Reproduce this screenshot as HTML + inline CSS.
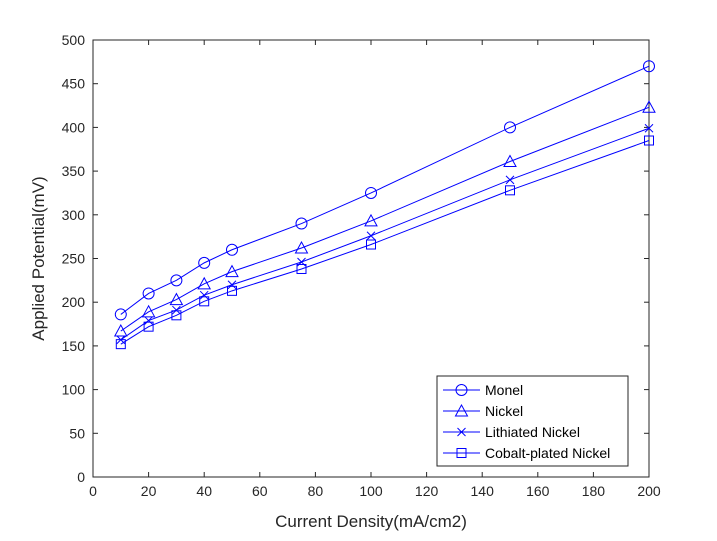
<!DOCTYPE html>
<html><head><meta charset="utf-8"><style>
body{margin:0;background:#fff;}
svg text{font-family:"Liberation Sans",Arial,sans-serif;}
</style></head><body>
<svg id="chart" width="717" height="536" viewBox="0 0 717 536" xmlns="http://www.w3.org/2000/svg">
<rect width="717" height="536" fill="#fff"/>
<g id="plot"></g>
</svg>
<script>
const xValues = [10, 20, 30, 40, 50, 75, 100, 150, 200];
const monel = [186, 210, 225, 245, 260, 290, 325, 400, 470];
const nickel = [167, 189, 203, 221, 235, 262, 293, 361, 423];
const lithiated = [157, 179, 191, 208, 220, 246, 276, 340, 399];
const cobalt = [152, 172, 185, 201, 213, 238, 266, 328, 385];
const xTicks = [0,20,40,60,80,100,120,140,160,180,200];
const yTicks = [0,50,100,150,200,250,300,350,400,450,500];
const seriesNames = ["Monel","Nickel","Lithiated Nickel","Cobalt-plated Nickel"];

const NS="http://www.w3.org/2000/svg";
const L=93,R=649,T=40,B=477;
const xs=v=>L+(v-0)/200*(R-L);
const ys=v=>B-(v-0)/500*(B-T);
const plot=document.getElementById('plot');
const C="#0000ff";
function mk(tag,attrs,parent){const e=document.createElementNS(NS,tag);for(const k in attrs)e.setAttribute(k,attrs[k]);(parent||plot).appendChild(e);return e;}

let box=mk('rect',{x:L,y:T,width:R-L,height:B-T,fill:'none',stroke:'#262626','stroke-width':1});



xTicks.forEach(v=>{
  const x=xs(v);
  const t=mk('line',{x1:x,y1:B,x2:x,y2:B-5,stroke:'#262626'});
  
  
  const t2=mk('line',{x1:x,y1:T,x2:x,y2:T+5,stroke:'#262626'});
  
  
  const lb=mk('text',{x:x,y:B+19,'text-anchor':'middle','font-size':14,fill:'#262626'});
  lb.textContent=v;
  
  
});
yTicks.forEach(v=>{
  const y=ys(v);
  const t=mk('line',{x1:L,y1:y,x2:L+5,y2:y,stroke:'#262626'});
  
  
  const t2=mk('line',{x1:R,y1:y,x2:R-5,y2:y,stroke:'#262626'});
  
  
  const lb=mk('text',{x:L-8,y:y+5,'text-anchor':'end','font-size':14,fill:'#262626'});
  lb.textContent=v;
  
  
});
const xt=mk('text',{x:(L+R)/2,y:527,'text-anchor':'middle','font-size':17,fill:'#262626'});
xt.textContent='Current Density(mA/cm2)';


const yt=mk('text',{x:0,y:0,'text-anchor':'middle','font-size':17,fill:'#262626',transform:`translate(44,${(T+B)/2}) rotate(-90)`});
yt.textContent='Applied Potential(mV)';



function marker(type,x,y,g){
  let e;
  if(type==='o') e=mk('circle',{cx:x,cy:y,r:5.5,fill:'none',stroke:C},g);
  else if(type==='^') e=mk('polygon',{points:`${x},${y-6} ${x-6},${y+5} ${x+6},${y+5}`,fill:'none',stroke:C},g);
  else if(type==='x') e=mk('path',{d:`M${x-4},${y-4}L${x+4},${y+4}M${x-4},${y+4}L${x+4},${y-4}`,stroke:C},g);
  else e=mk('rect',{x:x-4.5,y:y-4.5,width:9,height:9,fill:'none',stroke:C},g);
  
  
}
const allSeries=[monel,nickel,lithiated,cobalt];
const types=['o','^','x','s'];
const slugs=['series-monel','series-nickel','series-lithiated-nickel','series-cobalt-plated-nickel'];
allSeries.forEach((s,i)=>{
  const g=mk('g',{});
  
  
  const pl=mk('polyline',{points:s.map((v,j)=>xs(xValues[j])+','+ys(v)).join(' '),fill:'none',stroke:C,'stroke-width':1},g);
  
  
  s.forEach((v,j)=>marker(types[i],xs(xValues[j]),ys(v),g));
});

const lg=mk('g',{});


mk('rect',{x:437,y:376,width:191,height:90,fill:'#fff',stroke:'#262626'},lg);
seriesNames.forEach((n,i)=>{
  const y=390+i*21;
  const eg=mk('g',{},lg);
  
  
  mk('line',{x1:443,y1:y,x2:480,y2:y,stroke:C},eg);
  marker(types[i],461.5,y,eg);
  const t=mk('text',{x:485,y:y+5,'font-size':14,fill:'#000'},eg);
  t.textContent=n;
});
</script>
</body></html>
